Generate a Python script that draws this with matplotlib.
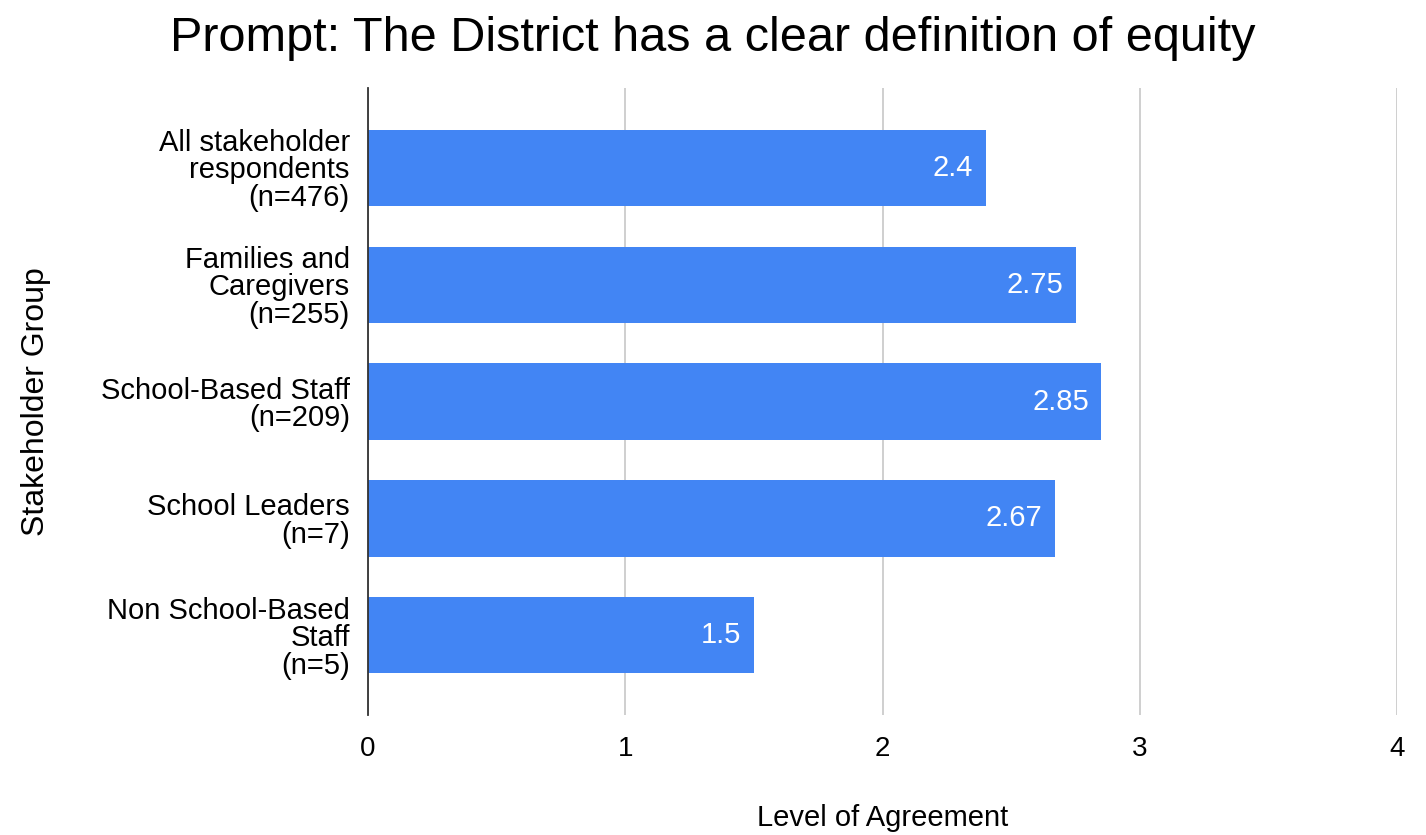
import matplotlib.pyplot as plt

plt.rcParams['font.family'] = ['Liberation Sans', 'DejaVu Sans']

groups = [
    "All stakeholder\nrespondents\n(n=476)",
    "Families and\nCaregivers\n(n=255)",
    "School-Based Staff\n(n=209)",
    "School Leaders\n(n=7)",
    "Non School-Based\nStaff\n(n=5)",
]
scores = [2.4, 2.75, 2.85, 2.67, 1.5]
score_labels = ["2.4", "2.75", "2.85", "2.67", "1.5"]

fig = plt.figure(figsize=(14.26, 8.35), dpi=100)
ax = fig.add_axes([0.258, 0.1437, 0.722, 0.7509])

pos = list(range(len(groups)))
bars = ax.barh(pos, scores, height=0.65, color="#4285F4", zorder=3)
ax.set_ylim(len(groups) - 0.32, -0.68)
ax.set_xlim(0, 4)
ax.set_xticks([0, 1, 2, 3, 4])
ax.set_yticks(pos)
ax.set_yticklabels(groups, fontsize=21, linespacing=0.98)
ax.tick_params(axis="x", labelsize=20, length=0, pad=15)
ax.tick_params(axis="y", length=0, pad=13)
ax.grid(axis="x", color="#cccccc", linewidth=1.3, zorder=0)

for s in ["top", "right", "bottom"]:
    ax.spines[s].set_visible(False)
ax.spines["left"].set_color("#333333")
ax.spines["left"].set_linewidth(1.3)
ax.spines["left"].set_zorder(4)

for b, lab in zip(bars, score_labels):
    ax.annotate(lab, (b.get_width(), b.get_y() + b.get_height() / 2),
                xytext=(-9, 0), textcoords="offset points",
                ha="right", va="center", color="white", fontsize=21, zorder=5)

ax.set_xlabel("Level of Agreement", fontsize=21, labelpad=30)
ax.set_ylabel("Stakeholder Group", fontsize=23, labelpad=36)
fig.text(0.5, 0.954, "Prompt: The District has a clear definition of equity",
         ha="center", va="center", fontsize=35)

fig.savefig("out.png", dpi=100)
